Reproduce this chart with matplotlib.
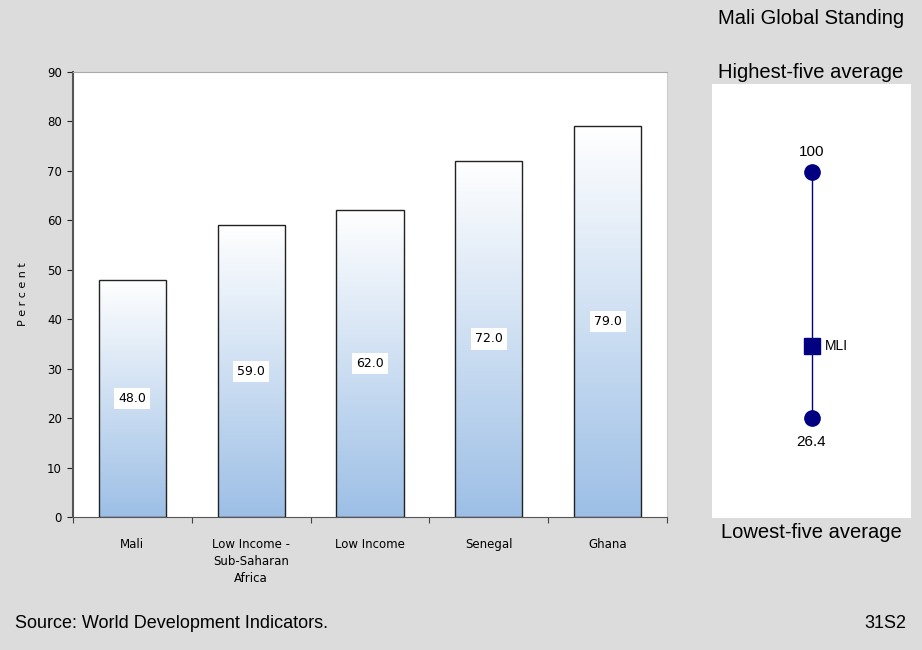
import numpy as np
import matplotlib.pyplot as plt
from matplotlib.colors import LinearSegmentedColormap
from matplotlib.patches import Rectangle

categories = ["Mali", "Low Income -\nSub-Saharan\nAfrica", "Low Income", "Senegal", "Ghana"]
values = [48.0, 59.0, 62.0, 72.0, 79.0]
yticks = list(range(0, 91, 10))

# global standing scale
high_avg = 100
low_avg = 26.4
country_code = "MLI"
country_val = values[0]

bg = "#dcdcdc"
navy = "#000080"
plt.rcParams["font.family"] = ["Liberation Sans", "DejaVu Sans"]

fig = plt.figure(figsize=(9.22, 6.5), dpi=100, facecolor=bg)
W, H = 922, 650

def px_axes(x0, y0, x1, y1):
    return fig.add_axes([x0 / W, 1 - y1 / H, (x1 - x0) / W, (y1 - y0) / H])

# --- bar chart ---
ax = px_axes(73, 72, 667, 517)
ax.set_facecolor("white")

grad = LinearSegmentedColormap.from_list("g", ["#9dbfe6", "#ffffff"])
width = 0.565
for i, v in enumerate(values):
    x0 = i - width / 2
    img = np.linspace(0, 1, 256).reshape(-1, 1)
    im = ax.imshow(img, cmap=grad, origin="lower", aspect="auto",
                   extent=(x0, x0 + width, 0, v), zorder=1)
    rect = Rectangle((x0, 0), width, v, fill=False, edgecolor="#222222", lw=1.0, zorder=2)
    ax.add_patch(rect)
    im.set_clip_path(rect)
    ax.text(i, v / 2, f"{v:.1f}", ha="center", va="center", fontsize=9,
            family=["DejaVu Sans"], zorder=3,
            bbox=dict(facecolor="white", edgecolor="none", pad=3))

ax.set_xlim(-0.5, len(values) - 0.5)
ax.set_ylim(0, 90)
ax.set_yticks(yticks)
ax.set_yticklabels([str(t) for t in yticks], fontsize=8.5, family=["DejaVu Sans"])
ax.set_xticks(np.arange(len(values) + 1) - 0.5)
ax.set_xticklabels([])
ax.tick_params(axis="x", length=4, color="#444444")
ax.tick_params(axis="y", length=4, color="#222222", pad=4)
for i, c in enumerate(categories):
    ax.text(i, -4.2, c, ha="center", va="top", fontsize=8.5, family=["DejaVu Sans"],
            linespacing=1.4)
ax.set_ylabel("P e r c e n t", fontsize=8, family=["DejaVu Sans"], labelpad=14)
ax.spines["left"].set_color("#555555")
ax.spines["left"].set_linewidth(1.5)
ax.spines["bottom"].set_color("#555555")
ax.spines["top"].set_color("#aaaaaa")
ax.spines["right"].set_color("#cccccc")

# --- global standing panel ---
fig.text(811 / W, 1 - 18 / H, "Mali Global Standing", ha="center", va="center", fontsize=14.5)
fig.text(811 / W, 1 - 72 / H, "Highest-five average", ha="center", va="center", fontsize=14.5)
fig.text(811 / W, 1 - 532 / H, "Lowest-five average", ha="center", va="center", fontsize=14.5)

ax2 = px_axes(712, 84, 911, 518)
ax2.set_xlim(0, 1)
ax2.set_ylim(-3.5, 126.3)
ax2.axis("off")
ax2.add_patch(Rectangle((0, 0), 1, 1, transform=ax2.transAxes, facecolor="white",
                        edgecolor="none", zorder=0))
ax2.plot([0.5, 0.5], [low_avg, high_avg], color=navy, lw=1.0, zorder=1)
ax2.plot([0.5, 0.5], [low_avg, high_avg], "o", color=navy, ms=11, zorder=2)
ax2.plot([0.5], [country_val], "s", color=navy, ms=12, zorder=3)
ax2.text(0.5, high_avg + 3.8, f"{high_avg}", ha="center", va="bottom", fontsize=11)
ax2.text(0.5, low_avg - 5.0, f"{low_avg}", ha="center", va="top", fontsize=11)
ax2.text(0.565, country_val, country_code, ha="left", va="center", fontsize=10)

fig.text(15 / W, 1 - 623 / H, "Source: World Development Indicators.", ha="left",
         va="center", fontsize=13)
fig.text(906 / W, 1 - 623 / H, "31S2", ha="right", va="center", fontsize=13)

fig.savefig("out.png", dpi=100, facecolor=bg)
